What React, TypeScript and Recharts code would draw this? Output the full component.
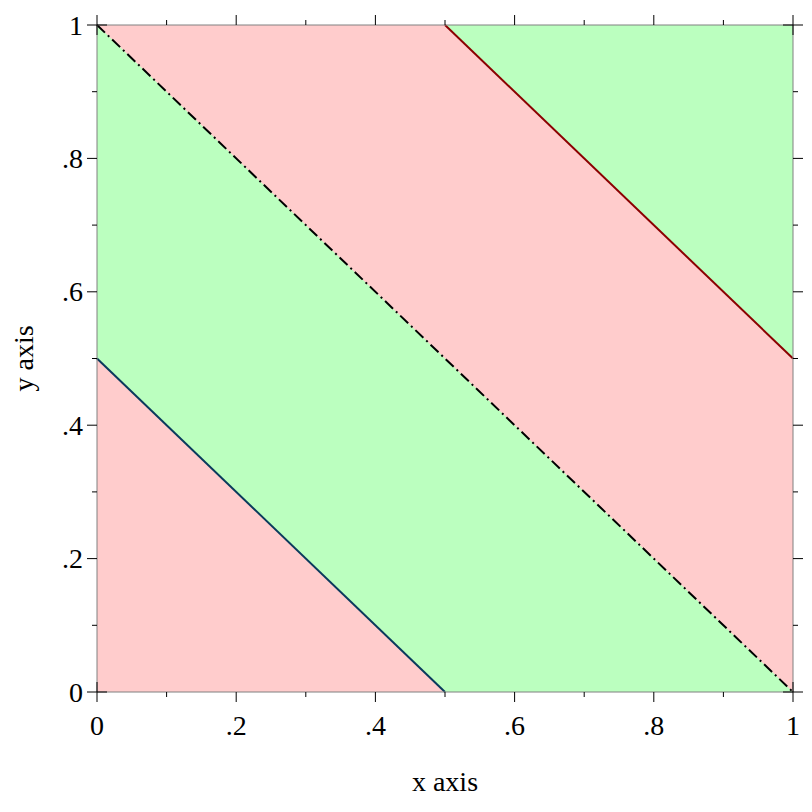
import { ComposedChart, Area, Line, XAxis, YAxis } from 'recharts';

// x positions where the boundaries bend
const xs = [0, 0.5, 1];
// stacked-from-zero fills, painted back to front
const topGreen = [1, 1, 1];
const upperPink = [1, 1, 0.5];
const midGreen = [1, 0.5, 0];
const lowPink = [0.5, 0, 0];
// boundary lines
const lowLine = [0.5, 0, null];
const midLine = [1, 0.5, 0];
const highLine = [null, 1, 0.5];

const ticks = [0, 0.1, 0.2, 0.3, 0.4, 0.5, 0.6, 0.7, 0.8, 0.9, 1];

const data = xs.map((x, i) => ({
  x,
  topGreen: topGreen[i],
  upperPink: upperPink[i],
  midGreen: midGreen[i],
  lowPink: lowPink[i],
  lowLine: lowLine[i],
  midLine: midLine[i],
  highLine: highLine[i],
}));

const PINK = '#ffcccc';
const GREEN = '#bbffbf';
const FONT = '"Liberation Serif", "Times New Roman", serif';

const isMajor = (v: number) => Math.round(v * 10) % 2 === 0;
const isEnd = (v: number) => v === 0 || v === 1;
const fmt = (v: number) => (v === 0 ? '0' : v === 1 ? '1' : String(v).replace(/^0/, ''));

function makeTick(side: 'bottom' | 'top' | 'left' | 'right') {
  return (props: any) => {
    const { x, y, payload } = props;
    const v = payload.value as number;
    const major = isMajor(v);
    const len = major ? 10 : 5;
    const inner = isEnd(v) ? 10 : 0;
    let line;
    if (side === 'bottom') line = <line x1={x} x2={x} y1={y - inner} y2={y + len} />;
    else if (side === 'top') line = <line x1={x} x2={x} y1={y - len} y2={y + inner} />;
    else if (side === 'left') line = <line x1={x - len} x2={x + inner} y1={y} y2={y} />;
    else line = <line x1={x - inner} x2={x + len} y1={y} y2={y} />;
    return (
      <g stroke="#000" strokeWidth={1}>
        {line}
        {major && side === 'bottom' && (
          <text x={x} y={y + 43} textAnchor="middle" stroke="none" fill="#000" fontSize={28} fontFamily={FONT}>
            {fmt(v)}
          </text>
        )}
        {major && side === 'left' && (
          <text x={x - 14} y={y + 9.5} textAnchor="end" stroke="none" fill="#000" fontSize={28} fontFamily={FONT}>
            {fmt(v)}
          </text>
        )}
      </g>
    );
  };
}

export default function App() {
  return (
    <ComposedChart width={804} height={804} data={data} margin={{ top: 0, right: 0, bottom: 0, left: 0 }}>
      <Area xAxisId="b" yAxisId="l" type="linear" dataKey="topGreen" stroke="none" fill={GREEN} fillOpacity={1} isAnimationActive={false} />
      <Area xAxisId="b" yAxisId="l" type="linear" dataKey="upperPink" stroke="none" fill={PINK} fillOpacity={1} isAnimationActive={false} />
      <Area xAxisId="b" yAxisId="l" type="linear" dataKey="midGreen" stroke="none" fill={GREEN} fillOpacity={1} isAnimationActive={false} />
      <Area xAxisId="b" yAxisId="l" type="linear" dataKey="lowPink" stroke="none" fill={PINK} fillOpacity={1} isAnimationActive={false} />
      <Line xAxisId="b" yAxisId="l" type="linear" dataKey="lowLine" stroke="#0a3a5c" strokeWidth={2} dot={false} isAnimationActive={false} />
      <Line xAxisId="t" yAxisId="r" type="linear" dataKey="midLine" stroke="#000" strokeWidth={2} strokeDasharray="11 4 2 4" dot={false} isAnimationActive={false} />
      <Line xAxisId="b" yAxisId="l" type="linear" dataKey="highLine" stroke="#8b0000" strokeWidth={2} dot={false} isAnimationActive={false} />
      <XAxis
        xAxisId="b"
        dataKey="x"
        type="number"
        domain={[0, 1]}
        ticks={ticks}
        interval={0}
        height={120}
        tickSize={0}
        tickMargin={0}
        tickLine={false}
        axisLine={{ stroke: '#808080' }}
        tick={makeTick('bottom')}
        label={{
          content: (p: any) => (
            <text x={p.viewBox.x + p.viewBox.width / 2} y={p.viewBox.y + 99} textAnchor="middle" fontSize={28} fontFamily={FONT} fill="#000">
              x axis
            </text>
          ),
        }}
      />
      <XAxis
        xAxisId="t"
        orientation="top"
        dataKey="x"
        type="number"
        domain={[0, 1]}
        ticks={ticks}
        interval={0}
        height={17}
        tickSize={0}
        tickMargin={0}
        tickLine={false}
        axisLine={{ stroke: '#808080' }}
        tick={makeTick('top')}
      />
      <YAxis
        yAxisId="l"
        type="number"
        domain={[0, 1]}
        ticks={ticks}
        interval={0}
        width={89}
        tickSize={0}
        tickMargin={0}
        tickLine={false}
        axisLine={{ stroke: '#808080' }}
        tick={makeTick('left')}
        label={{
          content: (p: any) => {
            const cx = 25;
            const cy = p.viewBox.y + p.viewBox.height / 2;
            return (
              <text x={cx} y={cy} transform={`rotate(-90 ${cx} ${cy})`} textAnchor="middle" fontSize={28} fontFamily={FONT} fill="#000">
                y axis
              </text>
            );
          },
        }}
      />
      <YAxis
        yAxisId="r"
        orientation="right"
        type="number"
        domain={[0, 1]}
        ticks={ticks}
        interval={0}
        width={19}
        tickSize={0}
        tickMargin={0}
        tickLine={false}
        axisLine={{ stroke: '#808080' }}
        tick={makeTick('right')}
      />
    </ComposedChart>
  );
}
